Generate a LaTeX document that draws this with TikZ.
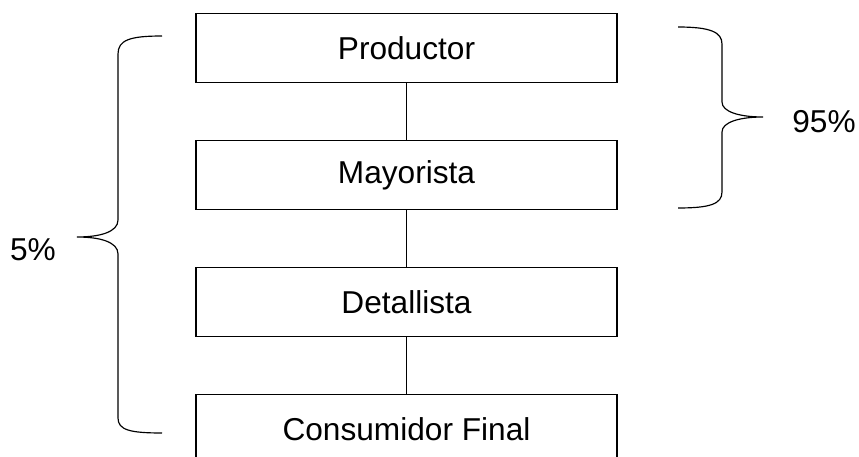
\documentclass[tikz,border=0pt]{standalone}
\usepackage{fontspec}
\setmainfont{Liberation Sans}
\begin{document}
\begin{tikzpicture}[x=0.03cm, y=-0.03cm]
\useasboundingbox (0,0) rectangle (859,457);
\begin{scope}[every node/.style={rectangle,draw,line width=1pt,minimum width=12.63cm,minimum height=2.07cm,inner sep=0pt,font=\fontsize{27}{32}\selectfont}]
    \node (productor) at (406.5,48) {Productor};
    \node (mayorista) at (406.5,175) {Mayorista};
    \node (detallista) at (406.5,302) {Detallista};
    \node (consumidor) at (406.5,429) {Consumidor Final};
\end{scope}

\begin{scope}[every edge/.style={draw,line width=0.8pt}]
    \path (productor) edge (mayorista);
    \path (mayorista) edge (detallista);
    \path (detallista) edge (consumidor);
\end{scope}

% llaves
\begin{scope}[line width=1pt]
    \draw (162,36) .. controls (130,36) and (118,40) .. (118,54)
        -- (118,220) .. controls (118,232) and (100,237) .. (77,237)
        .. controls (100,237) and (118,242) .. (118,254)
        -- (118,418) .. controls (118,430) and (130,433) .. (162,433);
    \draw (678,27) .. controls (710,27) and (722,32) .. (722,44)
        -- (722,102) .. controls (722,112) and (740,117) .. (763,117)
        .. controls (740,117) and (722,122) .. (722,132)
        -- (722,192) .. controls (722,204) and (710,208) .. (678,208);
\end{scope}

\begin{scope}[every node/.style={font=\fontsize{27}{32}\selectfont}]
    \node (cinco) at (33,250) {5\%};
    \node (noventa) at (824,122) {95\%};
\end{scope}
\end{tikzpicture}
\end{document}
